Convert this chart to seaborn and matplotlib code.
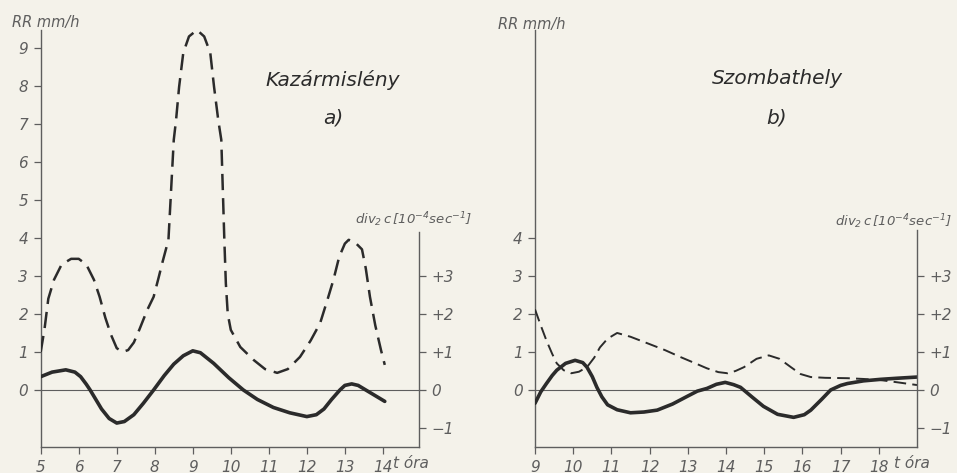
import matplotlib
matplotlib.use("Agg")
import matplotlib.pyplot as plt
import seaborn as sns
import pandas as pd

# ---------------------------------------------------------------------------
# Data
# ---------------------------------------------------------------------------

# a) Kazármislény, hours 5..14
kaz_rr_hour = [5.0, 5.1, 5.2, 5.35, 5.55, 5.8, 6.0, 6.2, 6.4, 6.55, 6.7, 6.85,
               7.0, 7.15, 7.3, 7.45, 7.6, 7.8, 7.97, 8.1, 8.2, 8.36, 8.5,
               8.56, 8.64, 8.75, 8.9, 9.11, 9.3, 9.46, 9.56, 9.67, 9.75, 9.83,
               9.87, 9.92, 10.0, 10.25, 10.6, 10.9, 11.22, 11.5, 11.82, 12.1,
               12.35, 12.55, 12.7, 12.85, 13.0, 13.1, 13.25, 13.45, 13.55,
               13.66, 13.8, 13.95, 14.05]
kaz_rr = [1.0, 1.6, 2.4, 2.9, 3.3, 3.45, 3.45, 3.3, 2.9, 2.45, 1.9, 1.45,
          1.1, 1.0, 1.05, 1.25, 1.6, 2.1, 2.45, 2.95, 3.35, 3.95, 6.58,
          7.1, 7.97, 8.87, 9.3, 9.47, 9.3, 8.87, 7.97, 7.1, 6.58, 3.95,
          2.8, 2.0, 1.58, 1.13, 0.79, 0.55, 0.45, 0.55, 0.87, 1.3,
          1.76, 2.4, 2.9, 3.5, 3.85, 3.95, 3.9, 3.7, 3.2,
          2.45, 1.7, 1.05, 0.66]

kaz_div_hour = [5.0, 5.3, 5.66, 5.9, 6.05, 6.2, 6.3, 6.45, 6.6, 6.8, 7.0, 7.2,
                7.45, 7.7, 7.97, 8.25, 8.5, 8.75, 9.0, 9.2, 9.55, 9.95, 10.33,
                10.7, 11.12, 11.55, 12.0, 12.25, 12.45, 12.65, 12.87, 13.0,
                13.18, 13.35, 13.55, 13.8, 14.05]
kaz_div = [0.35, 0.47, 0.53, 0.47, 0.35, 0.15, 0.0, -0.25, -0.5, -0.75, -0.87, -0.83,
           -0.65, -0.35, 0.0, 0.38, 0.68, 0.9, 1.03, 0.98, 0.7, 0.32, 0.0,
           -0.25, -0.46, -0.6, -0.7, -0.65, -0.5, -0.25, 0.0, 0.12,
           0.16, 0.12, 0.0, -0.15, -0.3]

# b) Szombathely, hours 9..19
szo_rr_hour = [9.0, 9.15, 9.3, 9.45, 9.57, 9.75, 9.95, 10.15, 10.36, 10.55, 10.7,
               10.9, 11.15, 11.5, 11.94, 12.4, 12.8, 13.2, 13.5, 13.8, 14.04,
               14.25, 14.47, 14.8, 15.12, 15.4, 15.7, 15.95, 16.22, 16.6, 17.18,
               17.6, 18.05, 18.5, 19.0]
szo_rr = [2.12, 1.7, 1.3, 0.95, 0.7, 0.52, 0.44, 0.48, 0.6, 0.85, 1.12,
          1.35, 1.5, 1.4, 1.23, 1.05, 0.87, 0.7, 0.57, 0.47, 0.44,
          0.5, 0.6, 0.82, 0.91, 0.82, 0.6, 0.42, 0.34, 0.32, 0.31,
          0.29, 0.26, 0.2, 0.13]

szo_div_hour = [9.0, 9.15, 9.3, 9.45, 9.57, 9.8, 10.05, 10.25, 10.36, 10.5, 10.62,
                10.75, 10.9, 11.15, 11.5, 11.85, 12.2, 12.6, 12.98, 13.25, 13.5,
                13.75, 13.98, 14.2, 14.38, 14.7, 14.98, 15.35, 15.77, 16.05,
                16.22, 16.5, 16.74, 17.0, 17.18, 17.6, 18.05, 18.5, 19.0]
szo_div = [-0.35, -0.05, 0.17, 0.38, 0.52, 0.7, 0.78, 0.72, 0.6, 0.35, 0.07,
           -0.18, -0.39, -0.52, -0.6, -0.58, -0.53, -0.37, -0.17, -0.03, 0.04,
           0.15, 0.2, 0.14, 0.07, -0.2, -0.43, -0.64, -0.72, -0.65,
           -0.53, -0.25, 0.0, 0.12, 0.17, 0.24, 0.28, 0.31, 0.34]

kaz_hour_ticks = [5, 6, 7, 8, 9, 10, 11, 12, 13, 14]
szo_hour_ticks = [9, 10, 11, 12, 13, 14, 15, 16, 17, 18]
kaz_rr_ticks = [0, 1, 2, 3, 4, 5, 6, 7, 8, 9]
szo_rr_ticks = [0, 1, 2, 3, 4]
div_ticks = [-1, 0, 1, 2, 3]
div_labels = ['−1', '0', '+1', '+2', '+3']

# ---------------------------------------------------------------------------
# Style
# ---------------------------------------------------------------------------
PAPER = '#f4f2ea'
INK = '#2b2b2b'
GREY = '#5e5e5e'

sns.set_theme(style="white")
plt.rcParams.update({
    'font.family': ['DejaVu Sans'],
    'font.style': 'italic',
    'mathtext.fontset': 'dejavusans',
    'figure.facecolor': PAPER,
    'axes.facecolor': PAPER,
    'savefig.facecolor': PAPER,
})

fig = plt.figure(figsize=(9.57, 4.73), dpi=100)

W, H = 957.0, 473.0
Y_LIM = (-1.5, 9.47)


def make_panel(rect, xlim, hour_ticks, rr_ticks, right_top):
    ax = fig.add_axes(rect)
    ax.set_xlim(*xlim)
    ax.set_ylim(*Y_LIM)
    for side in ['top', 'right']:
        ax.spines[side].set_visible(False)
    for side in ['left', 'bottom']:
        ax.spines[side].set_color(GREY)
        ax.spines[side].set_linewidth(1.0)
    ax.set_xticks(hour_ticks)
    ax.set_xticklabels([str(h) for h in hour_ticks])
    ax.set_yticks(rr_ticks)
    ax.set_yticklabels([str(v) for v in rr_ticks])
    ax.tick_params(axis='both', direction='out', length=5, width=0.9,
                   color=GREY, labelcolor=GREY, labelsize=11, pad=4,
                   left=True, bottom=True)
    for lab in ax.get_xticklabels() + ax.get_yticklabels():
        lab.set_fontstyle('italic')
    ax.axhline(0, color=GREY, lw=0.8, zorder=1)

    # right axis for div2 c
    ax2 = ax.twinx()
    ax2.set_ylim(*Y_LIM)
    for side in ['top', 'left', 'bottom']:
        ax2.spines[side].set_visible(False)
    ax2.spines['right'].set_color(GREY)
    ax2.spines['right'].set_linewidth(1.0)
    ax2.spines['right'].set_bounds(Y_LIM[0], right_top)
    ax2.set_yticks(div_ticks)
    ax2.set_yticklabels(div_labels)
    ax2.tick_params(axis='y', direction='out', length=5, width=0.9,
                    color=GREY, labelcolor=GREY, labelsize=11, pad=4)
    for lab in ax2.get_yticklabels():
        lab.set_fontstyle('italic')
    ax2.grid(False)
    ax.grid(False)
    return ax


def draw_series(ax, rr_hour, rr, div_hour, div, dash_lw):
    rr_df = pd.DataFrame({'hour': rr_hour, 'rr': rr})
    div_df = pd.DataFrame({'hour': div_hour, 'div': div})
    sns.lineplot(data=rr_df, x='hour', y='rr', ax=ax, color=INK, lw=dash_lw,
                 linestyle=(0, (6.5, 3.2)), sort=False, zorder=3)
    sns.lineplot(data=div_df, x='hour', y='div', ax=ax, color=INK, lw=2.6,
                 sort=False, zorder=3)
    ax.set_xlabel('')
    ax.set_ylabel('')


ax_a = make_panel([40.7 / W, 26 / H, 378.3 / W, 417 / H], (5, 14.95),
                  kaz_hour_ticks, kaz_rr_ticks, 4.16)
draw_series(ax_a, kaz_rr_hour, kaz_rr, kaz_div_hour, kaz_div, 1.8)

ax_b = make_panel([535 / W, 26 / H, 382 / W, 417 / H], (9, 19.0),
                  szo_hour_ticks, szo_rr_ticks, 4.2)
draw_series(ax_b, szo_rr_hour, szo_rr, szo_div_hour, szo_div, 1.4)

# ---------------------------------------------------------------------------
# Annotations
# ---------------------------------------------------------------------------
def ftext(px, py, s, **kw):
    fig.text(px / W, 1 - py / H, s, **kw)


label_kw = dict(color=GREY, fontsize=10.5, style='italic', ha='center', va='center')
ftext(46, 22, 'RR mm/h', **label_kw)
ftext(532, 24, 'RR mm/h', **label_kw)

div_text = r'$div_2\,c\,\left[10^{-4}sec^{-1}\right]$'
ftext(414, 220, div_text, color=GREY, fontsize=9.5, ha='center', va='center')
ftext(894, 222, div_text, color=GREY, fontsize=9.5, ha='center', va='center')

title_kw = dict(color=INK, fontsize=14.5, style='italic', ha='center', va='center')
ftext(333, 80, 'Kazármislény', **title_kw)
ftext(333, 118, 'a)', **title_kw)
ftext(777, 78, 'Szombathely', **title_kw)
ftext(777, 118, 'b)', **title_kw)

ftext(411, 463, 't óra', color=GREY, fontsize=11, style='italic',
      ha='center', va='center')
ftext(912, 463, 't óra', color=GREY, fontsize=11, style='italic',
      ha='center', va='center')

fig.savefig('out.png', dpi=100)
plt.close(fig)
